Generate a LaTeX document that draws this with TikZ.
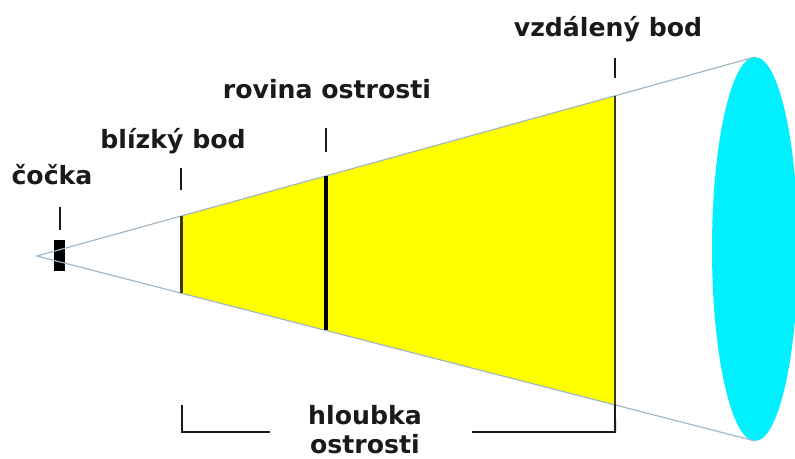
\documentclass[tikz,border=0pt]{standalone}
\usepackage{fontspec}
\setmainfont{DejaVu Sans}
\usepackage{xcolor}
\usepackage{tikz}
\usetikzlibrary{positioning, calc}
\definecolor{beam}{HTML}{9FB6C6}
\definecolor{dof}{HTML}{FFFF00}
\definecolor{scene}{HTML}{00F0FF}
\definecolor{ink}{HTML}{1A1A1A}
\definecolor{plane}{HTML}{3A3A1E}

\begin{document}
\begin{tikzpicture}[x=0.03cm, y=-0.03cm]
    \tikzstyle{caption} = [text=ink, font=\fontsize{21.5}{24}\selectfont\bfseries, inner sep=0pt, anchor=base]
    \tikzstyle{tick} = [draw=ink, line width=1.7pt]
    \tikzstyle{ray} = [draw=beam, line width=1pt]

    \useasboundingbox (0,0) rectangle (795,459);

    % cone
    \coordinate (apex) at (37,256);
    \coordinate (top) at (755,57);
    \coordinate (bot) at (755,441);
    \coordinate (nearT) at ($(apex)!0.2006!(top)$);
    \coordinate (nearB) at ($(apex)!0.2006!(bot)$);
    \coordinate (focT) at ($(apex)!0.4025!(top)$);
    \coordinate (focB) at ($(apex)!0.4025!(bot)$);
    \coordinate (farT) at ($(apex)!0.805!(top)$);
    \coordinate (farB) at ($(apex)!0.805!(bot)$);

    \fill [dof] (nearT) -- (farT) -- (farB) -- (nearB) -- cycle;
    \fill [scene] (755,249) ellipse (43 and 192);
    \fill [black] (54,240) rectangle (65,271);
    \path [ray] (top) -- (apex) -- (bot);

    \draw [plane, line width=2.5pt] (nearT) -- (nearB);
    \draw [black, line width=4.2pt] (focT) -- (focB);
    \draw [plane, line width=2.5pt] (farT) -- (farB);

    % labels
    \node [caption] (lens) at (52,185) {čočka};
    \node [caption] (near) at (173,149) {blízký bod};
    \node [caption] (focus) at (327,99) {rovina ostrosti};
    \node [caption] (far) at (608,37) {vzdálený bod};
    \node [caption] (depth) at (365,424) {hloubka};
    \node [caption] (depth2) at (365,453) {ostrosti};

    \path [tick] (60,207) -- (60,230);
    \path [tick] (181,168) -- (181,190);
    \path [tick] (326,128) -- (326,152);
    \path [tick] (615,58) -- (615,78);

    % bracket
    \path [tick] (182,405) -- (182,432) -- (270,432);
    \path [tick] (472,432) -- (615,432) -- (farB);
\end{tikzpicture}
\end{document}
